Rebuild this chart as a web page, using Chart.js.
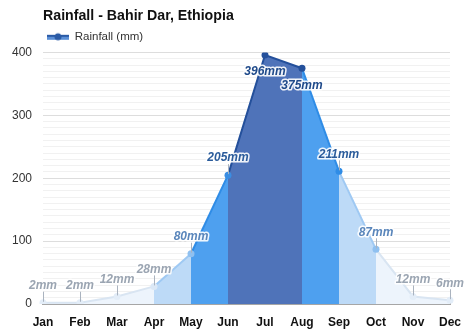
<!DOCTYPE html>
<html>
<head>
<meta charset="utf-8">
<script src="https://cdn.jsdelivr.net/npm/chart.js@4"></script>
<style>
  html, body { margin: 0; padding: 0; background: #fff; }
  #wrap { width: 474px; height: 331px; }
</style>
</head>
<body>
<div id="wrap"><canvas id="rain-chart" width="474" height="331"></canvas></div>
<script>
// data
const months = ['Jan', 'Feb', 'Mar', 'Apr', 'May', 'Jun', 'Jul', 'Aug', 'Sep', 'Oct', 'Nov', 'Dec'];
const rainfall = [2, 2, 12, 28, 80, 205, 396, 375, 211, 87, 12, 6];
const yLabelTicks = [0, 100, 200, 300, 400];

// styles per segment (between month i and i+1) and per point
const segFill = ['#edf4fc', '#edf4fc', '#edf4fc', '#bddaf7', '#4ea0ef', '#4f73b9', '#4f73b9', '#4ea0ef', '#bddaf7', '#edf4fc', '#edf4fc'];
const segLine = ['#d9e5f2', '#d9e5f2', '#d9e5f2', '#9fc9f3', '#2f8ce6', '#24509b', '#24509b', '#2f8ce6', '#9fc9f3', '#d9e5f2', '#d9e5f2'];
const pointColors = ['#e3edf8', '#e3edf8', '#e3edf8', '#dbe8f6', '#8fc0f0', '#3a8de2', '#24509b', '#24509b', '#2f8ce6', '#8fc0f0', '#e3edf8', '#e3edf8'];
const labelColors = ['#9ba5b2', '#9ba5b2', '#9ba5b2', '#9ba5b2', '#5a86bb', '#2b5c9b', '#1f4a8a', '#1f4a8a', '#2b5c9b', '#5a86bb', '#9ba5b2', '#9ba5b2'];

const FONT = "'Liberation Sans', Arial, Helvetica, sans-serif";

// legend icon: filled bar with line and dot
const icon = document.createElement('canvas');
icon.width = 22; icon.height = 10;
(function () {
    const c = icon.getContext('2d');
    c.fillStyle = '#5b8fd6';
    c.fillRect(0, 3, 22, 5);
    c.fillStyle = '#2a5aa5';
    c.fillRect(0, 3, 22, 2);
    c.beginPath();
    c.arc(11, 5, 3.5, 0, Math.PI * 2);
    c.fill();
})();

// value labels with small pointer line
const valueLabels = {
    id: 'valueLabels',
    afterDatasetsDraw(chart) {
        const ctx = chart.ctx;
        const meta = chart.getDatasetMeta(0);
        ctx.save();
        ctx.font = 'italic bold 12px ' + FONT;
        ctx.textAlign = 'center';
        ctx.textBaseline = 'middle';
        meta.data.forEach((pt, i) => {
            const below = i === 6 || i === 7;
            const ly = below ? pt.y + 17 : pt.y - 17;
            if (!below) {
                ctx.strokeStyle = '#aab3bf';
                ctx.lineWidth = 1;
                ctx.beginPath();
                ctx.moveTo(Math.round(pt.x) + 0.5, ly + 6);
                ctx.lineTo(Math.round(pt.x) + 0.5, pt.y - 1);
                ctx.stroke();
            }
            const txt = rainfall[i] + 'mm';
            ctx.lineJoin = 'round';
            ctx.lineWidth = 3;
            ctx.strokeStyle = 'rgba(255,255,255,0.9)';
            ctx.strokeText(txt, pt.x, ly);
            ctx.fillStyle = labelColors[i];
            ctx.fillText(txt, pt.x, ly);
        });
        ctx.restore();
    }
};

const ctx = document.getElementById('rain-chart').getContext('2d');

new Chart(ctx, {
    type: 'line',
    data: {
        labels: months,
        datasets: [{
            label: 'Rainfall (mm)',
            data: rainfall,
            fill: 'origin',
            borderWidth: 2,
            tension: 0,
            pointRadius: 3.5,
            pointBorderWidth: 0,
            pointBackgroundColor: pointColors,
            pointBorderColor: pointColors,
            segment: {
                backgroundColor: c => segFill[c.p0DataIndex],
                borderColor: c => segLine[c.p0DataIndex]
            }
        }]
    },
    options: {
        responsive: false,
        animation: false,
        layout: { padding: { left: 0, right: 24, top: 0, bottom: 0 } },
        plugins: {
            tooltip: { enabled: false },
            title: {
                display: true,
                text: 'Rainfall - Bahir Dar, Ethiopia',
                align: 'start',
                fullSize: false,
                color: '#111',
                font: { family: FONT, size: 14.2, weight: 'bold' },
                padding: { top: 8, bottom: 2 }
            },
            legend: {
                display: true,
                align: 'start',
                fullSize: false,
                labels: {
                    usePointStyle: true,
                    pointStyle: icon,
                    pointStyleWidth: 22,
                    padding: 4,
                    color: '#333',
                    font: { family: FONT, size: 11.5 }
                }
            }
        },
        scales: {
            x: {
                offset: false,
                grid: { display: false },
                border: { color: '#a6a6a6', width: 2 },
                ticks: {
                    color: '#111',
                    padding: 3,
                    font: { family: FONT, size: 12, weight: 'bold' },
                    autoSkip: false,
                    maxRotation: 0
                },
                afterFit(axis) { axis.height = 27; }
            },
            y: {
                min: 0,
                max: 400,
                border: { display: false },
                grid: {
                    drawTicks: false,
                    color: c => yLabelTicks.includes(c.tick.value) ? '#dddddd' : '#f1f1f1',
                    lineWidth: 1
                },
                ticks: {
                    stepSize: 10,
                    autoSkip: false,
                    padding: 11,
                    color: '#333',
                    font: { family: FONT, size: 12 },
                    callback: v => yLabelTicks.includes(v) ? String(v) : ''
                },
                afterFit(axis) { axis.width = 43; }
            }
        }
    },
    plugins: [valueLabels]
});
</script>
</body>
</html>
